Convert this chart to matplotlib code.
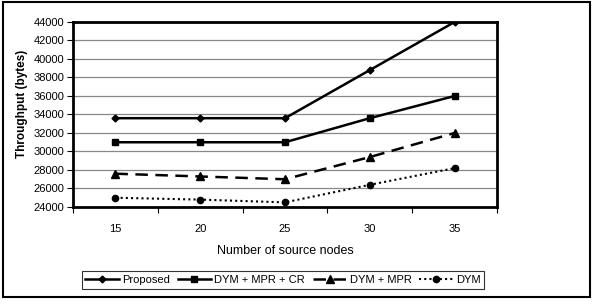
import matplotlib.pyplot as plt
import numpy as np
from matplotlib.patches import Rectangle

plt.rcParams['font.family'] = ['Liberation Sans', 'DejaVu Sans']

nodes = ['15', '20', '25', '30', '35']
proposed = [33600, 33600, 33600, 38800, 44000]
dym_mpr_cr = [31000, 31000, 31000, 33600, 36000]
dym_mpr = [27600, 27300, 27000, 29400, 32000]
dym = [25000, 24800, 24500, 26400, 28200]

fig = plt.figure(figsize=(5.94, 3.04), dpi=100)
ax = fig.add_axes([73 / 594, 1 - 207 / 304, 424 / 594, 185 / 304])

x = np.arange(len(nodes))
ax.plot(x, proposed, color='black', lw=1.8, marker='D', ms=3.5, label='Proposed')
ax.plot(x, dym_mpr_cr, color='black', lw=1.8, marker='s', ms=5, label='DYM + MPR + CR')
ax.plot(x, dym_mpr, color='black', lw=1.8, ls=(0, (5, 3)), marker='^', ms=5.5, label='DYM + MPR')
ax.plot(x, dym, color='black', lw=1.5, ls=(0, (1, 1.5)), marker='o', ms=4.5, label='DYM')

ax.set_xlim(-0.5, len(nodes) - 0.5)
ax.set_ylim(24000, 44000)
ax.set_yticks(np.arange(24000, 44001, 2000))
ax.set_xticks(x)
ax.set_xticklabels(nodes)
ax.set_xticks(np.arange(-0.5, len(nodes)), minor=True)
ax.tick_params(axis='x', which='major', length=0, pad=12, labelsize=8)
ax.tick_params(axis='x', which='minor', length=4, width=0.8, direction='out')
ax.tick_params(axis='y', length=4, width=0.8, direction='out', labelsize=8, pad=2)
ax.yaxis.grid(True, color='#888888', lw=0.9)
ax.set_axisbelow(True)
for s in ax.spines.values():
    s.set_linewidth(2.0)

ax.set_ylabel('Throughput (bytes)', fontsize=8.5, fontweight='bold')
ax.yaxis.set_label_coords(-0.105, 0.557)
ax.set_xlabel('Number of source nodes', fontsize=9, labelpad=8)

leg = fig.legend(loc='center', bbox_to_anchor=(283 / 594, 1 - 280 / 304), ncol=4,
                 fontsize=8, frameon=True, fancybox=False, edgecolor='black',
                 handlelength=3.0, handletextpad=0.3, columnspacing=0.7,
                 borderpad=0.35)
leg.get_frame().set_linewidth(0.8)

fig.patches.append(Rectangle((3 / 594, 1 - 297 / 304), 587 / 594, 295 / 304,
                             transform=fig.transFigure, fill=False,
                             edgecolor='black', lw=1.5))

fig.savefig('out.png', dpi=100)
